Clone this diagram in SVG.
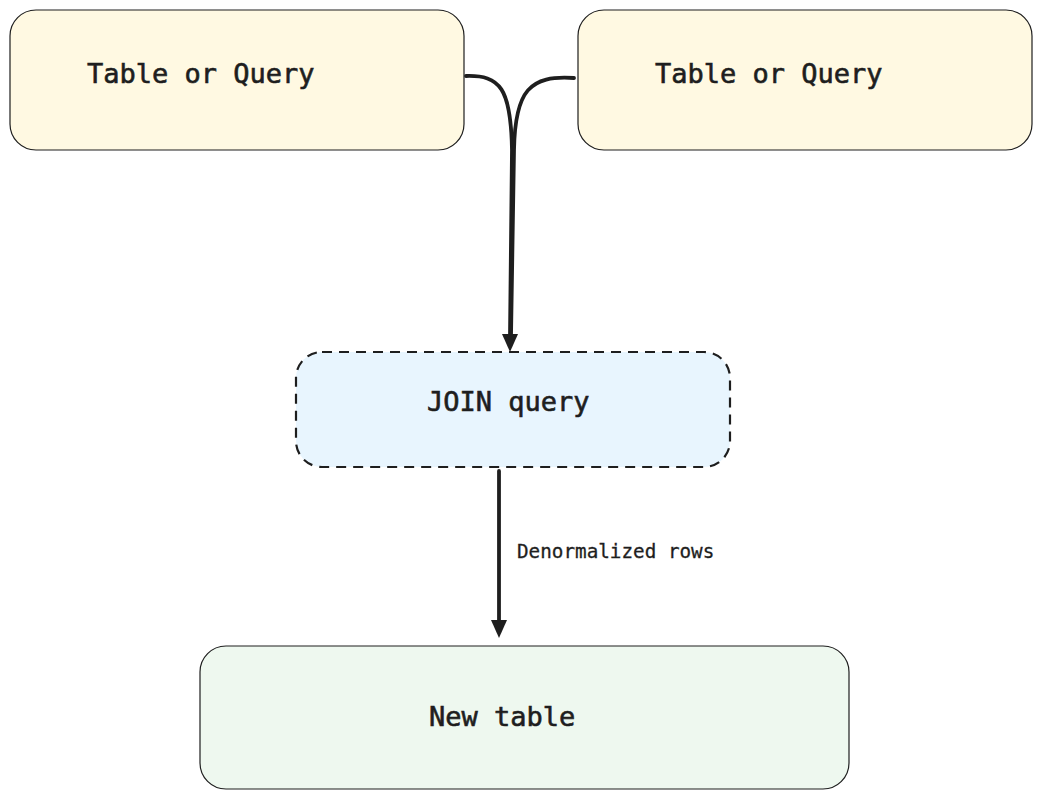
<svg xmlns="http://www.w3.org/2000/svg" width="1043" height="800" viewBox="0 0 1043 800">
<style>
.box{stroke:#1e1e1e;stroke-width:1.2}
.yel{fill:#fff9e2}
.blu{fill:#e8f5fe;stroke-width:2.2;stroke-dasharray:10 7}
.grn{fill:#eef8ef}
.t{font-family:"DejaVu Sans Mono","Liberation Mono",monospace;font-size:27px;fill:#1e1e1e;stroke:#1e1e1e;stroke-width:0.6}
.lbl{font-family:"DejaVu Sans Mono","Liberation Mono",monospace;font-size:19.3px;fill:#1e1e1e;stroke:#1e1e1e;stroke-width:0.3}
.c{fill:none;stroke:#1e1e1e;stroke-width:3.8;stroke-linecap:round}
</style>
<g id="node-table1">
<rect class="box yel" x="10" y="10" width="454" height="140" rx="26"/>
<text class="t" x="87" y="83">Table or Query</text>
</g>
<g id="node-table2">
<rect class="box yel" x="578" y="10" width="454" height="140" rx="26"/>
<text class="t" x="655" y="83">Table or Query</text>
</g>
<g id="node-join">
<rect class="box blu" x="296" y="352" width="434" height="115" rx="26"/>
<text class="t" x="427" y="411">JOIN query</text>
</g>
<g id="node-new">
<rect class="box grn" x="200" y="646" width="649" height="143" rx="26"/>
<text class="t" x="429" y="726">New table</text>
</g>
<g id="connectors">
<path class="c" d="M466 76 C 500 75, 511 88, 512 150 L 510 336"/>
<path class="c" d="M574 78 C 530 75, 515 90, 514 150 L 511 336"/>
<polygon points="502,334 518,334 510,352" fill="#1e1e1e"/>
<path class="c" d="M499 471 L 499 622"/>
<polygon points="491,620 507,620 499,638" fill="#1e1e1e"/>
<text class="lbl" x="517" y="558">Denormalized rows</text>
</g>
</svg>
